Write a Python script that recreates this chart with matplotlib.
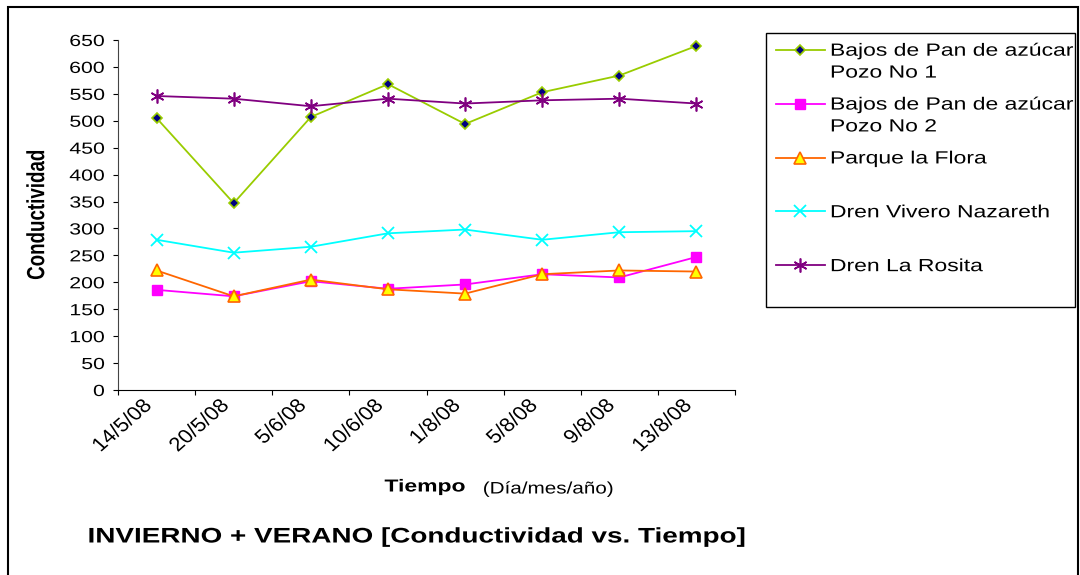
import matplotlib
matplotlib.use("Agg")
import matplotlib.pyplot as plt
from matplotlib.lines import Line2D
from matplotlib.patches import Rectangle
from matplotlib.legend_handler import HandlerLine2D
from matplotlib.patheffects import AbstractPathEffect
from matplotlib.transforms import Affine2D, ScaledTranslation

plt.rcParams['font.family'] = ['Liberation Sans', 'DejaVu Sans']

fechas = ["14/5/08", "20/5/08", "5/6/08", "10/6/08", "1/8/08", "5/8/08", "9/8/08", "13/8/08"]
pozo1 = [505, 347, 507, 568, 494, 553, 584, 639]
pozo2 = [186, 174, 202, 188, 196, 215, 209, 247]
flora = [222, 174, 205, 187, 179, 215, 222, 220]
nazareth = [279, 255, 266, 291, 298, 279, 293, 295]
rosita = [546, 541, 527, 541, 532, 538, 541, 532]

nombres = ["Bajos de Pan de azúcar\nPozo No 1",
           "Bajos de Pan de azúcar\nPozo No 2",
           "Parque la Flora\n ",
           "Dren Vivero Nazareth\n ",
           "Dren La Rosita\n "]


class Estirar(AbstractPathEffect):
    # ensancha el texto en horizontal (el grafico original esta estirado a lo ancho)
    def __init__(self, sx, ancla='left'):
        super().__init__()
        self.sx = sx
        self.ancla = ancla

    def draw_path(self, renderer, gc, tpath, affine, rgbFace=None):
        ext = tpath.get_extents(affine)
        if self.ancla == 'right':
            x0 = ext.x1
        elif self.ancla == 'center':
            x0 = (ext.x0 + ext.x1) / 2
        else:
            x0 = ext.x0
        t = affine + Affine2D().translate(-x0, 0).scale(self.sx, 1).translate(x0, 0)
        renderer.draw_path(gc, tpath, t, rgbFace)


class HandlerArriba(HandlerLine2D):
    # pone la muestra de la leyenda a la altura de la primera linea
    def create_artists(self, legend, orig_handle, xdescent, ydescent,
                       width, height, fontsize, trans):
        s = 0.72 * fontsize
        return super().create_artists(legend, orig_handle, xdescent, ydescent,
                                      width, height + 2 * s, fontsize, trans)


SX = 1.32

fig = plt.figure(figsize=(10.8, 5.75), dpi=100)
ax = fig.add_axes([118 / 1080, 1 - 390 / 575, 617 / 1080, 350 / 575])

x = list(range(len(fechas)))
l1, = ax.plot(x, pozo1, color='#99CC00', lw=1.3, marker='D', ms=5,
              mfc='#000080', mec='#99CC00', mew=1.2)
l2, = ax.plot(x, pozo2, color='#FF00FF', lw=1.3, marker='s', ms=7,
              mfc='#FF00FF', mec='#FF00FF')
l3, = ax.plot(x, flora, color='#FF6600', lw=1.3, marker='^', ms=8.5,
              mfc='#FFFF00', mec='#FF6600', mew=1.2)
l4, = ax.plot(x, nazareth, color='#00FFFF', lw=1.3, marker='x', ms=8.5,
              mec='#00FFFF', mew=1.3)
l5, = ax.plot(x, rosita, color='#800080', lw=1.3, marker=(6, 2, 0), ms=10,
              mec='#800080', mew=1.2)

ax.set_xlim(-0.5, len(fechas) - 0.5)
ax.set_ylim(0, 650)
ax.set_yticks(range(0, 651, 50))
ax.set_xticks([i - 0.5 for i in range(len(fechas) + 1)])
ax.set_xticklabels([])
ax.set_xticks(x, minor=True)
ax.set_xticklabels(fechas, minor=True, rotation=45, ha='right', va='center',
                   rotation_mode='anchor', fontsize=14)
ax.tick_params(axis='x', which='minor', length=0, pad=9.5)
ax.tick_params(axis='x', which='major', length=3.6, direction='out', color='black')
ax.tick_params(axis='y', length=3.6, direction='out', labelsize=11.6, pad=6)
for s in ['top', 'right']:
    ax.spines[s].set_visible(False)
ax.spines['left'].set_color('#444444')
ax.spines['bottom'].set_color('black')
for t in ax.get_yticklabels():
    t.set_path_effects([Estirar(SX, 'right')])
corrido = ScaledTranslation(-0.07, 0, fig.dpi_scale_trans)
for t in ax.get_xticklabels(minor=True):
    t.set_path_effects([Estirar(1.14, 'right')])
    t.set_transform(t.get_transform() + corrido)

ax.set_ylabel("Conductividad", fontsize=13.5, fontweight='bold',
              path_effects=[Estirar(SX, 'center')])
ax.yaxis.set_label_coords(-(118 - 46) / 617, 0.5)

ax.text((425 - 118) / 617, (390 - 487) / 350, "Tiempo", transform=ax.transAxes,
        ha='center', va='center', fontsize=12.5, fontweight='bold',
        path_effects=[Estirar(SX, 'center')])
ax.text((483 - 118) / 617, (390 - 489) / 350, "(Día/mes/año)", transform=ax.transAxes,
        ha='left', va='center', fontsize=12,
        path_effects=[Estirar(1.24, 'left')])

fig.text(88 / 1080, 1 - 537 / 575, "INVIERNO + VERANO [Conductividad vs. Tiempo]",
         ha='left', va='center', fontsize=15.2, fontweight='bold',
         path_effects=[Estirar(SX, 'left')])

leg = fig.legend([l1, l2, l3, l4, l5], nombres, loc='upper left',
                 bbox_to_anchor=(766 / 1080, 1 - 33 / 575 - 0.01, 309 / 1080, 0.01),
                 mode='expand', fancybox=False, frameon=True, edgecolor='black',
                 framealpha=1, fontsize=12.7, handlelength=2.8, handletextpad=0.3,
                 borderpad=0.55, labelspacing=0.85, borderaxespad=0,
                 handler_map={Line2D: HandlerArriba()})
leg.get_frame().set_linewidth(1.0)
for t in leg.get_texts():
    t.set_linespacing(1.375)
    t.set_path_effects([Estirar(1.3, 'left')])

borde = Rectangle((8 / 1080, -0.2), 1070 / 1080, 1.2 - 7 / 575, transform=fig.transFigure,
                  fill=False, edgecolor='black', lw=1.5, clip_on=False)
fig.add_artist(borde)

fig.savefig("out.png", dpi=100)
